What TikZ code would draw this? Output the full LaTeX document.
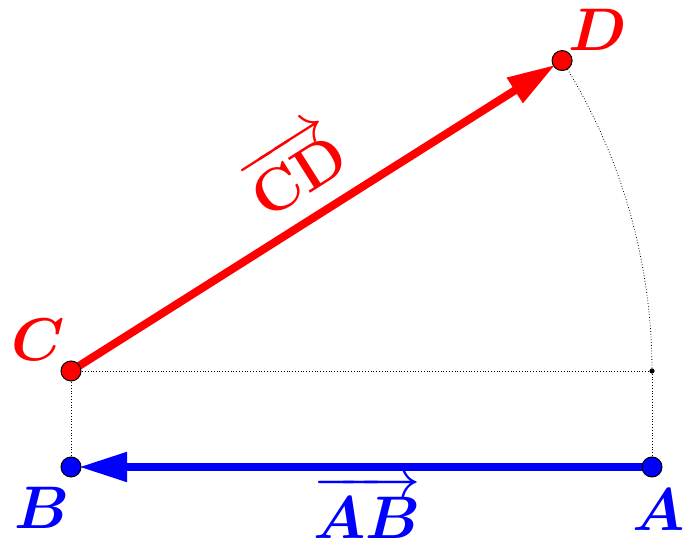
\documentclass[tikz,border=0pt]{standalone}
\usepackage{amsmath}
\usepackage{bm}
\usetikzlibrary{arrows.meta,calc}
\newcommand\BigLbl[1]{\scalebox{2.9}{\huge$#1$}}
\begin{document}
\begin{tikzpicture}[x=1pt,y=1pt,
  pt/.style={circle,draw=black,line width=1pt,inner sep=0pt,minimum size=20pt},
  lab/.style={inner sep=0pt},
  aux/.style={black,dotted,line width=0.8pt},
  vec/.style={line width=8pt,-{Triangle[length=48pt,width=28pt]},shorten >=8pt}]
\useasboundingbox (0,0) rectangle (689,548);
\coordinate (Bc) at (71,81);
\coordinate (Ac) at (652,81);
\coordinate (Cc) at (71,177);
\coordinate (Dc) at ($(Cc)+(32.3:581)$);
\coordinate (Ec) at (652,177);
\draw[aux] (Cc) -- (Ec);
\draw[aux] (Cc) -- (Bc);
\draw[aux] (Ec) -- (Ac);
\draw[aux] (Ec) arc (0:32.3:581);
\fill[black] (Ec) circle (2.6);
\draw[vec,blue] (Ac) -- (Bc) node[pos=0.49,below=4pt,lab,text=blue] {\BigLbl{\overrightarrow{\bm{AB}}}};
\draw[vec,red] (Cc) -- (Dc) node[pos=0.51,above=18pt,sloped,lab,text=red] {\BigLbl{\overrightarrow{\mathbf{CD}}}};
\node[pt,fill=blue] (B) at (Bc) {};
\node[pt,fill=blue] (A) at (Ac) {};
\node[pt,fill=red] (C) at (Cc) {};
\node[pt,fill=red] (D) at (Dc) {};
\node[lab,text=blue] at (42,40) {\BigLbl{\bm{B}}};
\node[lab,text=blue] at (659,38) {\BigLbl{\bm{A}}};
\node[lab,text=red] at (38,208) {\BigLbl{\bm{C}}};
\node[lab,text=red] at (598,518) {\BigLbl{\bm{D}}};
\end{tikzpicture}
\end{document}
